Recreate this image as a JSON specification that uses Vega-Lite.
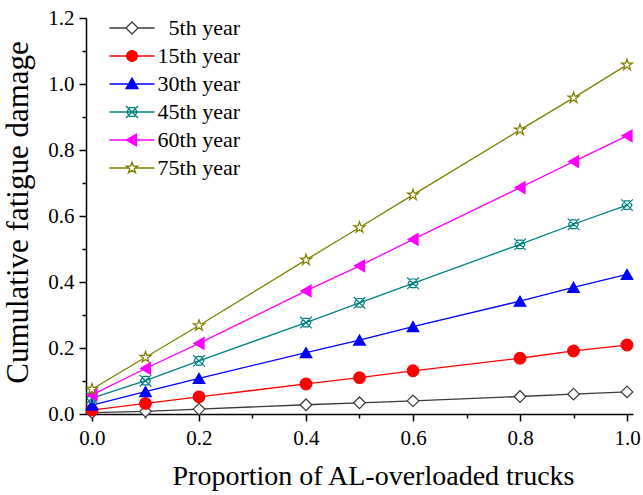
{
  "$schema": "https://vega.github.io/schema/vega-lite/v6.json",
  "width": 547,
  "height": 396,
  "autosize": {"type": "none"},
  "padding": {"left": 86, "top": 18, "right": 10, "bottom": 81},
  "background": "white",
  "config": {"view": {"stroke": null}, "font": "Liberation Serif"},
  "data": {"values": [
    {"p": 0.0, "s": "5th year", "d": 0.004}, {"p": 0.1, "s": "5th year", "d": 0.008}, {"p": 0.2, "s": "5th year", "d": 0.015}, {"p": 0.4, "s": "5th year", "d": 0.028}, {"p": 0.5, "s": "5th year", "d": 0.034}, {"p": 0.6, "s": "5th year", "d": 0.040}, {"p": 0.8, "s": "5th year", "d": 0.053}, {"p": 0.9, "s": "5th year", "d": 0.060}, {"p": 1.0, "s": "5th year", "d": 0.067},
    {"p": 0.0, "s": "15th year", "d": 0.012}, {"p": 0.1, "s": "15th year", "d": 0.032}, {"p": 0.2, "s": "15th year", "d": 0.052}, {"p": 0.4, "s": "15th year", "d": 0.091}, {"p": 0.5, "s": "15th year", "d": 0.110}, {"p": 0.6, "s": "15th year", "d": 0.131}, {"p": 0.8, "s": "15th year", "d": 0.169}, {"p": 0.9, "s": "15th year", "d": 0.191}, {"p": 1.0, "s": "15th year", "d": 0.209},
    {"p": 0.0, "s": "30th year", "d": 0.027}, {"p": 0.1, "s": "30th year", "d": 0.068}, {"p": 0.2, "s": "30th year", "d": 0.108}, {"p": 0.4, "s": "30th year", "d": 0.186}, {"p": 0.5, "s": "30th year", "d": 0.224}, {"p": 0.6, "s": "30th year", "d": 0.265}, {"p": 0.8, "s": "30th year", "d": 0.342}, {"p": 0.9, "s": "30th year", "d": 0.384}, {"p": 1.0, "s": "30th year", "d": 0.423},
    {"p": 0.0, "s": "45th year", "d": 0.048}, {"p": 0.1, "s": "45th year", "d": 0.101}, {"p": 0.2, "s": "45th year", "d": 0.161}, {"p": 0.4, "s": "45th year", "d": 0.277}, {"p": 0.5, "s": "45th year", "d": 0.337}, {"p": 0.6, "s": "45th year", "d": 0.396}, {"p": 0.8, "s": "45th year", "d": 0.514}, {"p": 0.9, "s": "45th year", "d": 0.575}, {"p": 1.0, "s": "45th year", "d": 0.633},
    {"p": 0.0, "s": "60th year", "d": 0.058}, {"p": 0.1, "s": "60th year", "d": 0.138}, {"p": 0.2, "s": "60th year", "d": 0.214}, {"p": 0.4, "s": "60th year", "d": 0.373}, {"p": 0.5, "s": "60th year", "d": 0.449}, {"p": 0.6, "s": "60th year", "d": 0.529}, {"p": 0.8, "s": "60th year", "d": 0.686}, {"p": 0.9, "s": "60th year", "d": 0.765}, {"p": 1.0, "s": "60th year", "d": 0.843},
    {"p": 0.0, "s": "75th year", "d": 0.075}, {"p": 0.1, "s": "75th year", "d": 0.172}, {"p": 0.2, "s": "75th year", "d": 0.268}, {"p": 0.4, "s": "75th year", "d": 0.467}, {"p": 0.5, "s": "75th year", "d": 0.565}, {"p": 0.6, "s": "75th year", "d": 0.664}, {"p": 0.8, "s": "75th year", "d": 0.861}, {"p": 0.9, "s": "75th year", "d": 0.958}, {"p": 1.0, "s": "75th year", "d": 1.058}
  ]},
  "layer": [
    {
      "mark": {"type": "line", "strokeWidth": 1.3},
      "encoding": {
        "x": {"field": "p", "type": "quantitative", "scale": {"domain": [-0.0112, 1.0112], "nice": false, "zero": false},
          "axis": {"orient": "bottom", "values": [0, 0.2, 0.4, 0.6, 0.8, 1.0], "format": ".1f", "grid": false,
            "title": "Proportion of AL-overloaded trucks", "titleFont": "Liberation Serif", "titleFontSize": 28, "titleFontWeight": "normal", "titleColor": "#000",
            "titleX": 287, "titleY": 70, "titleBaseline": "alphabetic", "titleAlign": "center", "titleAnchor": null,
            "labelFont": "Liberation Serif", "labelFontSize": 21, "labelColor": "#000", "labelPadding": 6, "labelFlush": false, "labelOverlap": false,
            "tickSize": 7, "tickWidth": 1.5, "tickColor": "#000", "domainColor": "#000", "domainWidth": 1.5}},
        "y": {"field": "d", "type": "quantitative", "scale": {"domain": [0, 1.2], "nice": false},
          "axis": {"orient": "left", "values": [0, 0.2, 0.4, 0.6, 0.8, 1.0, 1.2], "format": ".1f", "grid": false,
            "title": "Cumulative fatigue damage", "titleFont": "Liberation Serif", "titleFontSize": 31, "titleFontWeight": "normal", "titleColor": "#000",
            "titleX": -59, "titleY": 194, "titleBaseline": "alphabetic", "titleAlign": "center", "titleAngle": 270, "titleAnchor": null,
            "labelFont": "Liberation Serif", "labelFontSize": 21, "labelColor": "#000", "labelPadding": 5, "labelFlush": false, "labelOverlap": false,
            "tickSize": 7, "tickWidth": 1.5, "tickColor": "#000", "domainColor": "#000", "domainWidth": 1.5}},
        "color": {"field": "s", "type": "nominal", "legend": null,
          "scale": {"domain": ["5th year", "15th year", "30th year", "45th year", "60th year", "75th year"],
            "range": ["#3a3a3a", "#ff0000", "#0000ff", "#008080", "#ff00ff", "#808000"]}},
        "order": {"field": "p", "type": "quantitative"}
      }
    },
    {
      "mark": {"type": "point", "filled": false, "size": 135, "strokeWidth": 1.2, "opacity": 1},
      "encoding": {
        "x": {"field": "p", "type": "quantitative",
          "axis": {"orient": "bottom", "values": [0.1, 0.3, 0.5, 0.7, 0.9], "labels": false, "title": null, "domain": false, "grid": false,
            "tickSize": 4, "tickWidth": 1.5, "tickColor": "#000"}},
        "y": {"field": "d", "type": "quantitative",
          "axis": {"orient": "left", "values": [0.1, 0.3, 0.5, 0.7, 0.9, 1.1], "labels": false, "title": null, "domain": false, "grid": false,
            "tickSize": 4, "tickWidth": 1.5, "tickColor": "#000"}},
        "stroke": {"field": "s", "type": "nominal", "legend": null,
          "scale": {"domain": ["5th year", "15th year", "30th year", "45th year", "60th year", "75th year"],
            "range": ["#3a3a3a", "#ff0000", "#0000ff", "#008080", "#ff00ff", "#808000"]}},
        "fill": {"field": "s", "type": "nominal", "legend": null,
          "scale": {"domain": ["5th year", "15th year", "30th year", "45th year", "60th year", "75th year"],
            "range": ["#ffffff", "#ff0000", "#0000ff", "transparent", "#ff00ff", "#ffffff"]}},
        "shape": {"field": "s", "type": "nominal", "legend": null,
          "scale": {"domain": ["5th year", "15th year", "30th year", "45th year", "60th year", "75th year"],
            "range": ["diamond", "circle", "triangle-up",
              "M-1,-1L1,1M-1,1L1,-1M-0.85,0L-0.42,-0.74L0.42,-0.74L0.85,0L0.42,0.74L-0.42,0.74Z",
              "triangle-left",
              "M0,-1L0.225,-0.309L0.951,-0.309L0.363,0.118L0.588,0.809L0,0.382L-0.588,0.809L-0.363,0.118L-0.951,-0.309L-0.225,-0.309Z"]}}
      }
    },
    {
      "transform": [{"filter": "false"}],
      "mark": {"type": "point", "filled": false, "size": 144, "strokeWidth": 1.3, "opacity": 1},
      "encoding": {
        "x": {"field": "p", "type": "quantitative", "axis": null},
        "y": {"field": "d", "type": "quantitative", "axis": null},
        "stroke": {"field": "s", "type": "nominal", "legend": null},
        "fill": {"field": "s", "type": "nominal", "legend": null},
        "shape": {"field": "s", "type": "nominal",
          "scale": {"domain": ["5th year", "15th year", "30th year", "45th year", "60th year", "75th year"],
            "range": [
              "M-3.75,0H-1M1,0H3.75M-1,0L0,-1L1,0L0,1Z",
              "M-3.75,0H3.75M-0.9,0A0.9,0.9 0 1,0 0.9,0A0.9,0.9 0 1,0 -0.9,0Z",
              "M-3.75,0H3.75M0,-1L1,0.75L-1,0.75Z",
              "M-3.75,0H3.75M-1,-1L1,1M-1,1L1,-1M-0.85,0L-0.42,-0.74L0.42,-0.74L0.85,0L0.42,0.74L-0.42,0.74Z",
              "M-3.75,0H3.75M-1,0L0.75,-1L0.75,1Z",
              "M-3.75,0H-0.53M0.53,0H3.75M0,-1L0.225,-0.309L0.951,-0.309L0.363,0.118L0.588,0.809L0,0.382L-0.588,0.809L-0.363,0.118L-0.951,-0.309L-0.225,-0.309Z"]},
          "legend": {"orient": "none", "legendX": 35, "legendY": -1, "title": null, "padding": 0,
            "labelFont": "Liberation Serif", "labelFontSize": 22, "labelColor": "#000", "labelOffset": 97, "labelAlign": "right", "labelLimit": 300,
            "symbolSize": 144, "symbolStrokeWidth": 1.3, "rowPadding": 6, "symbolOpacity": 1,
            "symbolStrokeColor": {"expr": "datum.value === '5th year' ? '#3a3a3a' : datum.value === '15th year' ? '#ff0000' : datum.value === '30th year' ? '#0000ff' : datum.value === '45th year' ? '#008080' : datum.value === '60th year' ? '#ff00ff' : '#808000'"},
            "symbolFillColor": {"expr": "datum.value === '15th year' ? '#ff0000' : datum.value === '30th year' ? '#0000ff' : datum.value === '60th year' ? '#ff00ff' : datum.value === '45th year' ? 'transparent' : '#ffffff'"}}}
      }
    }
  ],
  "resolve": {
    "scale": {"shape": "independent"},
    "axis": {"x": "independent", "y": "independent"},
    "legend": {"shape": "independent"}
  }
}
